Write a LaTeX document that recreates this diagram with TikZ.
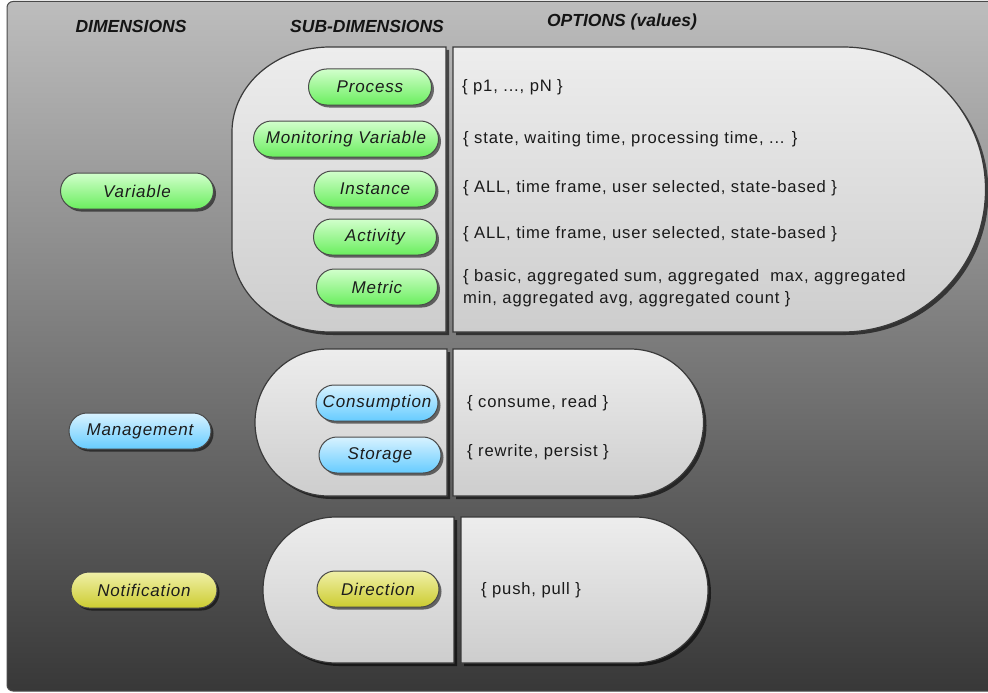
\documentclass[tikz,border=0pt]{standalone}
\usepackage{fontspec}
\setmainfont{Liberation Sans}
\newfontfamily\optfont[LetterSpace=5]{Liberation Sans}
\newfontfamily\pillfont[LetterSpace=5]{Liberation Sans}
\usetikzlibrary{shapes.misc,shadows}

\definecolor{bgtop}{HTML}{BDBDBD}
\definecolor{bgbot}{HTML}{383838}
\definecolor{bgedge}{HTML}{4A4A4A}
\definecolor{grptop}{HTML}{EDEDED}
\definecolor{grpbot}{HTML}{CDCDCD}
\definecolor{grpedge}{HTML}{3A3A3A}
\definecolor{pilledge}{HTML}{4A4A4A}
\definecolor{pilltext}{HTML}{1C1C1C}
\definecolor{gtop}{HTML}{D2FFCC}
\definecolor{gbot}{HTML}{6AEE5E}
\definecolor{btop}{HTML}{D8F2FF}
\definecolor{bbot}{HTML}{66CCFF}
\definecolor{ytop}{HTML}{F0F0A8}
\definecolor{ybot}{HTML}{CCCC30}
\definecolor{opttext}{HTML}{1A1A1A}

\tikzset{
  grp/.style={draw=grpedge, line width=1.2pt, top color=grptop, bottom color=grpbot,
    drop shadow={shadow xshift=3pt, shadow yshift=-3pt, opacity=0.6, fill=black}},
  pill/.style={rounded rectangle, draw=pilledge, line width=1pt, minimum height=36pt,
    inner sep=0pt, font=\pillfont\itshape\fontsize{17}{20}\selectfont, text=pilltext,
    drop shadow={shadow xshift=2.5pt, shadow yshift=-2.5pt, opacity=0.55, fill=black}},
  greenpill/.style={pill, top color=gtop, bottom color=gbot},
  bluepill/.style={pill, top color=btop, bottom color=bbot},
  yellowpill/.style={pill, top color=ytop, bottom color=ybot},
  opt/.style={anchor=west, inner sep=0pt, align=left, text=opttext,
    font=\optfont\fontsize{16.6}{21.5}\selectfont},
  head/.style={inner sep=0pt, text=black!92, font=\bfseries\itshape\fontsize{17.5}{20}\selectfont}
}

\begin{document}
\begin{tikzpicture}[x=1pt,y=-1pt]
\useasboundingbox (0,0) rectangle (988,693);

% backdrop
\path[draw=bgedge, line width=1pt, top color=bgtop, bottom color=bgbot, rounded corners=6pt]
  (7,1.5) rectangle (1010,691);

% column headings
\node[head] (hdim) at (131,26) {DIMENSIONS};
\node[head] (hsub) at (367,26) {SUB-DIMENSIONS};
\node[head] (hopt) at (622,22) {OPTIONS (values)};

% Variable group: sub-dimension half and option half
\path[grp] (446,47) -- (330,47) .. controls (275.9,47) and (232,85.1) .. (232,132)
  -- (232,247) .. controls (232,293.9) and (275.9,332) .. (330,332) -- (446,332) -- cycle;
\path[grp] (453,47) -- (843,47) .. controls (921.7,47) and (985.5,110.8) .. (985.5,189.5)
  .. controls (985.5,268.2) and (921.7,332) .. (843,332) -- (453,332) -- cycle;

% Management group
\path[grp] (447,349) -- (328.5,349) .. controls (287.9,349) and (255,381.9) .. (255,422.5)
  .. controls (255,463.1) and (287.9,496) .. (328.5,496) -- (447,496) -- cycle;
\path[grp] (453,349) -- (630,349) .. controls (670.6,349) and (703.5,381.9) .. (703.5,422.5)
  .. controls (703.5,463.1) and (670.6,496) .. (630,496) -- (453,496) -- cycle;

% Notification group
\path[grp] (454,517) -- (336,517) .. controls (295.7,517) and (263,549.7) .. (263,590)
  .. controls (263,630.3) and (295.7,663) .. (336,663) -- (454,663) -- cycle;
\path[grp] (461,517) -- (635,517) .. controls (675.3,517) and (708,549.7) .. (708,590)
  .. controls (708,630.3) and (675.3,663) .. (635,663) -- (461,663) -- cycle;

% dimensions
\node[greenpill, minimum width=153pt] (variable) at (137,191) {Variable};
\node[bluepill, minimum width=142pt] (management) at (140,431) {Management};
\node[yellowpill, minimum width=146pt] (notification) at (144,590) {Notification};

% sub-dimensions
\node[greenpill, minimum width=123pt] (process) at (370,87) {Process};
\node[greenpill, minimum width=185pt] (monvar) at (346,139) {Monitoring Variable};
\node[greenpill, minimum width=122pt] (instance) at (375,189) {Instance};
\node[greenpill, minimum width=123pt] (activity) at (375,237) {Activity};
\node[greenpill, minimum width=121pt] (metric) at (377,287) {Metric};
\node[bluepill, minimum width=122pt] (consumption) at (377,403) {Consumption};
\node[bluepill, minimum width=122pt] (storage) at (380,455) {Storage};
\node[yellowpill, minimum width=122pt] (direction) at (378,589) {Direction};

% option values
\node[opt] (oprocess) at (462,87) {\{ p1, ..., pN \}};
\node[opt] (omonvar) at (463,139) {\{ state, waiting time, processing time, ... \}};
\node[opt] (oinstance) at (463,188) {\{ ALL, time frame, user selected, state-based \}};
\node[opt] (oactivity) at (463,234) {\{ ALL, time frame, user selected, state-based \}};
\node[opt] (ometric) at (463,288) {\{ basic, aggregated sum, aggregated\ \ max, aggregated\\min, aggregated avg, aggregated count \}};
\node[opt] (oconsumption) at (467,403) {\{ consume, read \}};
\node[opt] (ostorage) at (467,452) {\{ rewrite, persist \}};
\node[opt] (odirection) at (481,590) {\{ push, pull \}};
\end{tikzpicture}
\end{document}
